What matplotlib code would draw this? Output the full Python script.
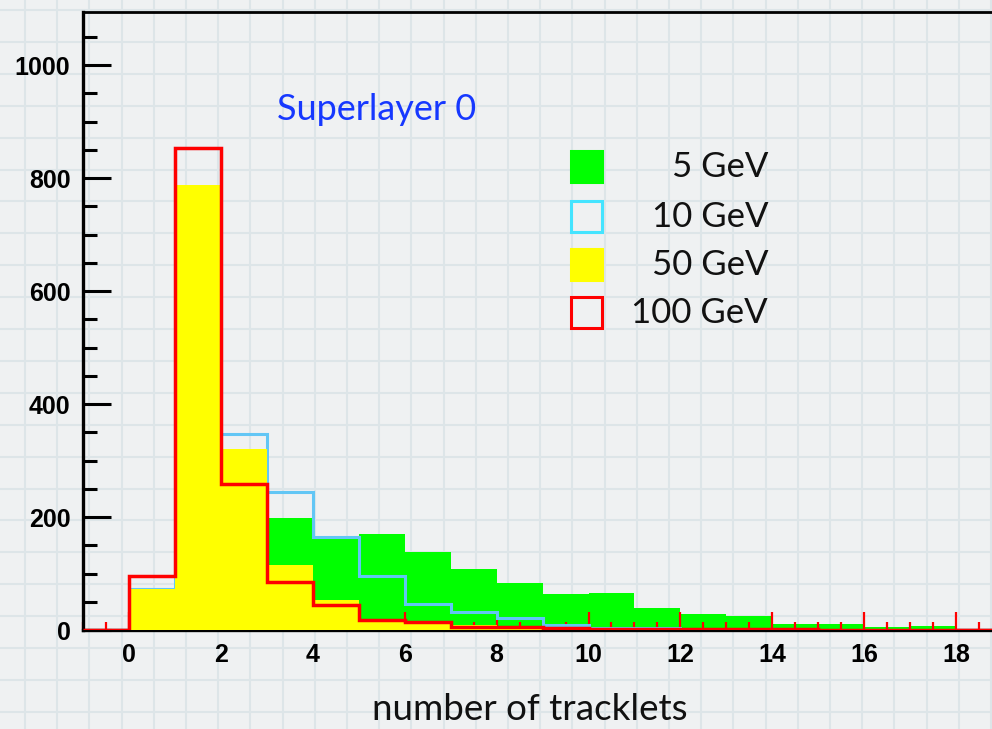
import numpy as np
import matplotlib.pyplot as plt
from matplotlib.patches import Rectangle
from matplotlib.ticker import MultipleLocator

# bin edges: unit-width bins from -1 to 19
edges = np.arange(-1, 20, 1)

# entries per bin (bins -1 .. 18)
gev5 = [0, 60, 250, 300, 198, 161, 170, 138, 108, 83, 64, 66, 39, 28, 25, 11, 11, 6, 7, 0]
gev10 = [0, 73, 853, 347, 244, 165, 96, 46, 32, 21, 9, 4, 3, 2, 1, 1, 0, 0, 0, 0]
gev50 = [0, 73, 788, 320, 115, 53, 16, 12, 9, 5, 3, 2, 2, 1, 1, 0, 0, 0, 0, 0]
gev100 = [0, 96, 853, 258, 85, 44, 18, 14, 6, 5, 3, 2, 2, 1, 1, 1, 0, 0, 0, 0]

labels = ['5 GeV', '10 GeV', '50 GeV', '100 GeV']
x_ticks = [0, 2, 4, 6, 8, 10, 12, 14, 16, 18]
y_ticks = [0, 200, 400, 600, 800, 1000]

W, H = 992, 729
bg = '#eff1f2'
fig = plt.figure(figsize=(W / 100, H / 100), dpi=100, facecolor=bg)

# graph-paper background
paper = fig.add_axes([0, 0, 1, 1], zorder=-5)
paper.set_xlim(0, W)
paper.set_ylim(H, 0)
paper.axis('off')
for gx in np.arange(25, W, 32.2):
    paper.axvline(gx, color='#dde5e8', lw=1.5)
for gy in np.arange(10, H, 31.9):
    paper.axhline(gy, color='#dde5e8', lw=1.5)

ax = fig.add_axes([83 / W, (H - 630) / H, 1 - 83 / W, (630 - 12) / H])
ax.set_facecolor('none')

ax.stairs(gev5, edges, fill=True, color='#00ff00', lw=0, zorder=1)
ax.stairs(gev10, edges, color='#62c6f5', lw=2.2, zorder=2)
ax.stairs(gev50, edges, fill=True, color='#ffff00', lw=0, zorder=3)
ax.stairs(gev100, edges, color='#ff0000', lw=2.5, zorder=4)

ax.set_xlim(-1, 18.78)
ax.set_ylim(0, 1094)

for s in ['left', 'bottom']:
    ax.spines[s].set_linewidth(2.4)
ax.spines['top'].set_linewidth(2.0)
ax.spines['right'].set_visible(False)
ax.spines['bottom'].set_zorder(0.5)

ax.xaxis.set_major_locator(MultipleLocator(2))
ax.xaxis.set_minor_locator(MultipleLocator(0.5))
ax.yaxis.set_major_locator(MultipleLocator(200))
ax.yaxis.set_minor_locator(MultipleLocator(50))
ax.set_xticks(x_ticks)
ax.set_yticks(y_ticks)

ax.tick_params(axis='x', which='major', direction='in', length=13, width=1.6,
               color='#ff0000', pad=9, top=False)
ax.tick_params(axis='x', which='minor', direction='in', length=6, width=1.6,
               color='#ff0000', top=False)
ax.tick_params(axis='y', which='major', direction='in', length=20, width=2.2,
               color='black', pad=9, right=False)
ax.tick_params(axis='y', which='minor', direction='in', length=10, width=2.2,
               color='black', right=False)
for lab in ax.get_xticklabels() + ax.get_yticklabels():
    lab.set_fontfamily('Liberation Sans')
    lab.set_fontweight('bold')
    lab.set_fontsize(18)

fig.text(530 / W, 1 - 710 / H, 'number of tracklets', ha='center', va='center',
         fontsize=26.5, family='Lato', color='#111111')
fig.text(277 / W, 1 - 110 / H, 'Superlayer 0', ha='left', va='center',
         fontsize=26, family='Lato', color='#1638ff')

# legend boxes and entries
box_y = [150, 200, 248, 296]
fills = ['#00ff00', None, '#ffff00', None]
edges_c = ['#00ff00', '#44e4ff', '#ffff00', '#ff0000']
for yb, fc, ec, lab in zip(box_y, fills, edges_c, labels):
    x0, y0 = 571 / W, 1 - (yb + 32) / H
    fig.add_artist(Rectangle((x0, y0), 31 / W, 31 / H, transform=fig.transFigure,
                             facecolor=fc if fc else 'none', edgecolor=ec,
                             lw=2.2, fill=fc is not None))
    fig.text(768 / W, 1 - (yb + 17) / H, lab, ha='right', va='center',
             fontsize=25, family='Lato', color='#111111')

fig.savefig('out.png', dpi=100, facecolor=bg)
